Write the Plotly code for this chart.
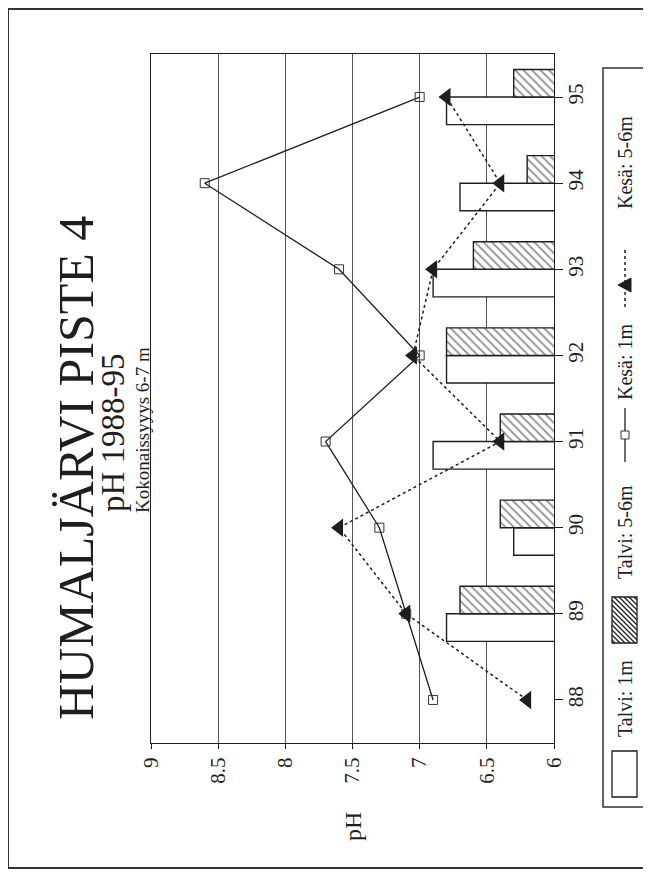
import plotly.graph_objects as go

# ---------------- data ----------------
years = [88, 89, 90, 91, 92, 93, 94, 95]
year_labels = ["88", "89", "90", "91", "92", "93", "94", "95"]
talvi_1m = [None, 6.8, 6.3, 6.9, 6.8, 6.9, 6.7, 6.8]
talvi_56m = [None, 6.7, 6.4, 6.4, 6.8, 6.6, 6.2, 6.3]
kesa_1m = [6.9, 7.1, 7.3, 7.7, 7.0, 7.6, 8.6, 7.0]
kesa_56m = [6.2, 7.1, 7.6, 6.4, 7.05, 6.9, 6.4, 6.8]
ph_ticks = [6, 6.5, 7, 7.5, 8, 8.5, 9]
ph_tick_labels = ["6", "6.5", "7", "7.5", "8", "8.5", "9"]

title_main = "HUMALJÄRVI PISTE 4"
title_sub = "pH 1988-95"
title_note = "Kokonaissyyys 6-7 m"
axis_title = "pH"
legend_names = ["Talvi: 1m", "Talvi: 5-6m", "Kesä: 1m", "Kesä: 5-6m"]

# ---------------- layout helpers (page pixel coords) ----------------
W, H = 651, 876
OFF = 8  # page body margin
PL, PR, PT, PB = 151, 554, 54, 743
FONT = "Liberation Serif"
INK = "#1e1e1e"


def px(x):
    return (x - PL) / (PR - PL)


def py(y):
    return (PB - y) / (PB - PT)


fig = go.Figure()

fig.add_trace(go.Bar(
    y=years, x=talvi_1m, orientation="h", name=legend_names[0],
    marker=dict(color="white", line=dict(color=INK, width=1.4)),
    showlegend=False,
))
fig.add_trace(go.Bar(
    y=years, x=talvi_56m, orientation="h", name=legend_names[1],
    marker=dict(color="white", line=dict(color=INK, width=1.4),
                pattern=dict(shape="\\", fgcolor=INK, bgcolor="white",
                             size=6, solidity=0.3)),
    showlegend=False,
))
fig.add_trace(go.Scatter(
    y=years, x=kesa_1m, mode="lines+markers", name=legend_names[2],
    line=dict(color=INK, width=1.3),
    marker=dict(symbol="square-open", size=9, color="#333",
                line=dict(width=1)),
    showlegend=False, cliponaxis=False,
))
fig.add_trace(go.Scatter(
    y=years, x=kesa_56m, mode="lines+markers", name=legend_names[3],
    line=dict(color=INK, width=1.5, dash="dot"),
    marker=dict(symbol="triangle-left", size=16, color=INK),
    showlegend=False, cliponaxis=False,
))

shapes = []
annotations = []

# outer border
shapes.append(dict(type="rect", xref="paper", yref="paper",
                   x0=px(8), x1=px(670), y0=py(9), y1=py(868),
                   line=dict(color="#333", width=2), layer="below"))
shapes.append(dict(type="line", xref="paper", yref="paper",
                   x0=px(2), x1=px(2), y0=py(-10), y1=py(890),
                   line=dict(color="#444", width=2)))

# titles
annotations.append(dict(text=title_main, xref="paper", yref="paper",
                        x=px(76), y=py(468), showarrow=False, textangle=-90,
                        font=dict(family=FONT, size=50, color=INK),
                        xanchor="center", yanchor="middle"))
annotations.append(dict(text=title_sub, xref="paper", yref="paper",
                        x=px(113), y=py(433), showarrow=False, textangle=-90,
                        font=dict(family=FONT, size=33, color=INK),
                        xanchor="center", yanchor="middle"))
annotations.append(dict(text=title_note, xref="paper", yref="paper",
                        x=px(142), y=py(430), showarrow=False, textangle=-90,
                        font=dict(family=FONT, size=19, color=INK),
                        xanchor="center", yanchor="middle"))
annotations.append(dict(text=axis_title, xref="paper", yref="paper",
                        x=px(353), y=py(827), showarrow=False, textangle=-90,
                        font=dict(family=FONT, size=24, color=INK),
                        xanchor="center", yanchor="middle"))

# legend box
shapes.append(dict(type="rect", xref="paper", yref="paper",
                   x0=px(603), x1=px(670), y0=py(68), y1=py(807),
                   line=dict(color="#333", width=1.5)))
LX = 625
# Talvi 1m swatch
shapes.append(dict(type="rect", xref="paper", yref="paper",
                   x0=px(612), x1=px(637), y0=py(751), y1=py(797),
                   line=dict(color=INK, width=1.3), fillcolor="white"))
# Talvi 5-6m hatched swatch
hx0, hx1, hy0, hy1 = 612, 637, 597, 643
shapes.append(dict(type="rect", xref="paper", yref="paper",
                   x0=px(hx0), x1=px(hx1), y0=py(hy0), y1=py(hy1),
                   line=dict(color=INK, width=1.3), fillcolor="white"))
c = hy0 - hx1 + 3
while c < hy1 - hx0:
    xa = max(hx0, hy0 - c)
    xb = min(hx1, hy1 - c)
    if xb > xa:
        shapes.append(dict(type="line", xref="paper", yref="paper",
                           x0=px(xa), y0=py(xa + c), x1=px(xb), y1=py(xb + c),
                           line=dict(color=INK, width=1.2)))
    c += 5
# Kesä 1m symbol
shapes.append(dict(type="line", xref="paper", yref="paper",
                   x0=px(LX), x1=px(LX), y0=py(408), y1=py(462),
                   line=dict(color=INK, width=1.3)))
shapes.append(dict(type="rect", xref="paper", yref="paper",
                   x0=px(LX - 4), x1=px(LX + 4), y0=py(431), y1=py(439),
                   line=dict(color="#333", width=1), fillcolor="white"))
# Kesä 5-6m symbol
shapes.append(dict(type="line", xref="paper", yref="paper",
                   x0=px(LX), x1=px(LX), y0=py(250), y1=py(308),
                   line=dict(color=INK, width=1.5, dash="dot")))
tri = "M {a},{b} L {c},{d} L {e},{f} Z".format(
    a=px(LX - 7), b=py(285), c=px(LX + 6), d=py(278), e=px(LX + 6), f=py(292))
shapes.append(dict(type="path", xref="paper", yref="paper", path=tri,
                   fillcolor=INK, line=dict(color=INK, width=1)))

legend_text_y = [699, 532, 362, 163]
for name, ty in zip(legend_names, legend_text_y):
    annotations.append(dict(text=name, xref="paper", yref="paper",
                            x=px(LX), y=py(ty), showarrow=False, textangle=-90,
                            font=dict(family=FONT, size=20, color=INK),
                            xanchor="center", yanchor="middle"))

fig.update_layout(
    width=W, height=H,
    margin=dict(l=PL - OFF, r=W - (PR - OFF), t=PT - OFF, b=H - (PB - OFF),
                pad=0),
    paper_bgcolor="white", plot_bgcolor="white",
    barmode="group", bargap=0.36, bargroupgap=0,
    showlegend=False,
    font=dict(family=FONT, color=INK, size=20),
    shapes=shapes, annotations=annotations,
    xaxis=dict(range=[9, 6], tickvals=ph_ticks, ticktext=ph_tick_labels,
               tickangle=-90, ticks="outside", ticklen=5, tickcolor=INK,
               showgrid=True, gridcolor="#555", gridwidth=1,
               showline=True, linecolor=INK, linewidth=1.3, mirror=True,
               zeroline=False, tickfont=dict(family=FONT, size=21, color=INK)),
    yaxis=dict(range=[87.5, 95.5], tickvals=years, ticktext=year_labels,
               side="right", tickangle=-90, ticks="outside", ticklen=8,
               ticklabelstandoff=-5,
               tickcolor=INK, showgrid=False, showline=True, linecolor=INK,
               linewidth=1.3, mirror=True, zeroline=False,
               tickfont=dict(family=FONT, size=21, color=INK)),
)

fig.write_html("out.html")
